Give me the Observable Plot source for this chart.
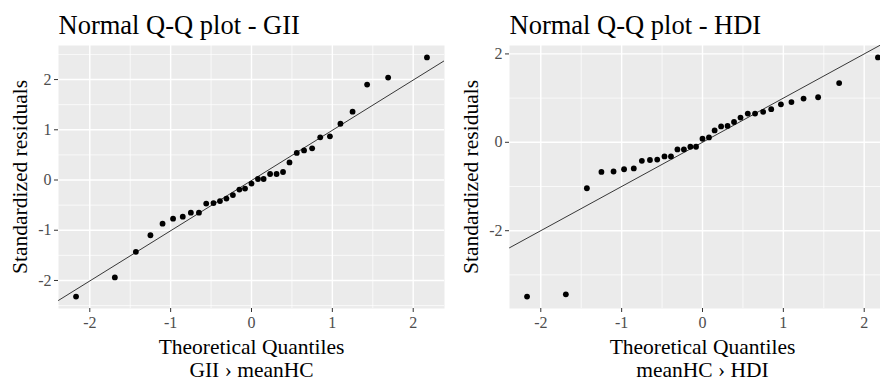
<!DOCTYPE html>
<html><head><meta charset="utf-8">
<script src="https://cdn.jsdelivr.net/npm/d3@7"></script>
<script src="https://cdn.jsdelivr.net/npm/@observablehq/plot@0.6"></script>
<style>
html,body{margin:0;padding:0;background:#fff;overflow:hidden;width:880px;height:380px}
#wrap{position:relative;width:880px;height:380px;overflow:hidden}
.panel{position:absolute;top:0}
</style></head><body><div id="wrap"></div>
<script>
// Theoretical quantiles (x) (33 points)
const quantiles = [-2.17, -1.69, -1.43, -1.25, -1.10, -0.97, -0.85, -0.75, -0.65, -0.56, -0.47,
  -0.39, -0.31, -0.23, -0.15, -0.08, 0, 0.08, 0.15, 0.23, 0.31, 0.39, 0.47, 0.56, 0.65,
  0.75, 0.85, 0.97, 1.10, 1.25, 1.43, 1.69, 2.17];
// Standardized residuals, panel GII
const giiResiduals = [-2.32, -1.94, -1.43, -1.10, -0.87, -0.77, -0.73, -0.65, -0.65, -0.47, -0.46,
  -0.42, -0.37, -0.30, -0.19, -0.17, -0.07, 0.02, 0.02, 0.12, 0.12, 0.16, 0.35, 0.54, 0.59,
  0.63, 0.85, 0.87, 1.12, 1.36, 1.90, 2.04, 2.44];
// Standardized residuals, panel HDI
const hdiResiduals = [-3.49, -3.44, -1.04, -0.67, -0.66, -0.61, -0.59, -0.42, -0.40, -0.39, -0.32,
  -0.32, -0.16, -0.16, -0.10, -0.10, 0.08, 0.11, 0.27, 0.36, 0.37, 0.46, 0.56, 0.65, 0.65,
  0.69, 0.75, 0.86, 0.91, 0.99, 1.02, 1.34, 1.92];
// Reference (Q-Q) lines: intercept, slope
const giiLine = [-0.01, 1.0];
const hdiLine = [0.0, 1.0];
// Tick labels
const xTicks = [-2, -1, 0, 1, 2];
const xMinor = [-1.5, -0.5, 0.5, 1.5];
const giiYTicks = [-2, -1, 0, 1, 2];
const giiYMinor = [-2.5, -1.5, -0.5, 0.5, 1.5, 2.5];
const hdiYTicks = [-2, 0, 2];
const hdiYMinor = [-3, -1, 1];
const titles = ["Normal Q-Q plot - GII", "Normal Q-Q plot - HDI"];
const xLabel = "Theoretical Quantiles";
const subLabels = ["GII \u203a meanHC", "meanHC \u203a HDI"];
const yLabel = "Standardized residuals";

const SERIF = "Liberation Serif";

function expand(values) {
  const [lo, hi] = d3.extent(values);
  const pad = (hi - lo) * 0.05;
  return [lo - pad, hi + pad];
}

function panel({resid, line, yTicks, yMinor, title, sub, width, marginLeft}) {
  const pts = quantiles.map((q, i) => ({q, r: resid[i]}));
  const xDom = expand(quantiles);
  const yDom = expand(resid);
  const lineData = xDom.map(x => ({x, y: line[0] + line[1] * x}));
  return Plot.plot({
    width, height: 380,
    marginLeft, marginRight: 0, marginTop: 45, marginBottom: 72,
    style: {fontFamily: SERIF, fontSize: "16px", background: "transparent", overflow: "visible"},
    x: {domain: xDom, axis: null},
    y: {domain: yDom, axis: null},
    marks: [
      Plot.frame({fill: "#ebebeb", stroke: "none"}),
      Plot.ruleX(xMinor, {stroke: "#fff", strokeWidth: 0.7}),
      Plot.ruleY(yMinor, {stroke: "#fff", strokeWidth: 0.7}),
      Plot.ruleX(xTicks, {stroke: "#fff", strokeWidth: 1.4}),
      Plot.ruleY(yTicks, {stroke: "#fff", strokeWidth: 1.4}),
      // tick marks
      Plot.ruleX(xTicks, {x: d => d, y1: yDom[0], y2: yDom[0], insetBottom: -4, stroke: "#333", strokeWidth: 1}),
      Plot.ruleY(yTicks, {y: d => d, x1: xDom[0], x2: xDom[0], insetLeft: -4, stroke: "#333", strokeWidth: 1}),
      // tick labels
      Plot.text(xTicks, {x: d => d, text: d => String(d), frameAnchor: "bottom", lineAnchor: "top", dy: 8, fontSize: 16, fontFamily: SERIF, fill: "#4d4d4d"}),
      Plot.text(yTicks, {y: d => d, text: d => String(d), frameAnchor: "left", textAnchor: "end", lineAnchor: "middle", dx: -7, fontSize: 16, fontFamily: SERIF, fill: "#4d4d4d"}),
      Plot.line(lineData, {x: "x", y: "y", stroke: "#222", strokeWidth: 0.9, clip: true}),
      Plot.dot(pts, {x: "q", y: "r", r: 2.9, fill: "#000", stroke: "none"}),
      Plot.text([title], {text: d => d, frameAnchor: "top-left", dy: -12, lineAnchor: "bottom", textAnchor: "start", fontSize: 26.5, fontFamily: SERIF, fill: "#000"}),
      Plot.text([xLabel + "\n" + sub], {text: d => d, frameAnchor: "bottom", dy: 68, lineAnchor: "bottom", lineHeight: 1.05, fontSize: 21.5, fontFamily: SERIF, fill: "#000"}),
      Plot.text([yLabel], {text: d => d, frameAnchor: "left", dx: -38, rotate: -90, lineAnchor: "middle", textAnchor: "middle", fontSize: 21.5, fontFamily: SERIF, fill: "#000"})
    ]
  });
}

const wrap = document.getElementById("wrap");
const left = panel({resid: giiResiduals, line: giiLine, yTicks: giiYTicks, yMinor: giiYMinor, title: titles[0], sub: subLabels[0], width: 444, marginLeft: 58});
left.classList.add("panel"); left.style.left = "0px";
const right = panel({resid: hdiResiduals, line: hdiLine, yTicks: hdiYTicks, yMinor: hdiYMinor, title: titles[1], sub: subLabels[1], width: 455, marginLeft: 69});
right.classList.add("panel"); right.style.left = "440px";
wrap.appendChild(left);
wrap.appendChild(right);
</script></body></html>
